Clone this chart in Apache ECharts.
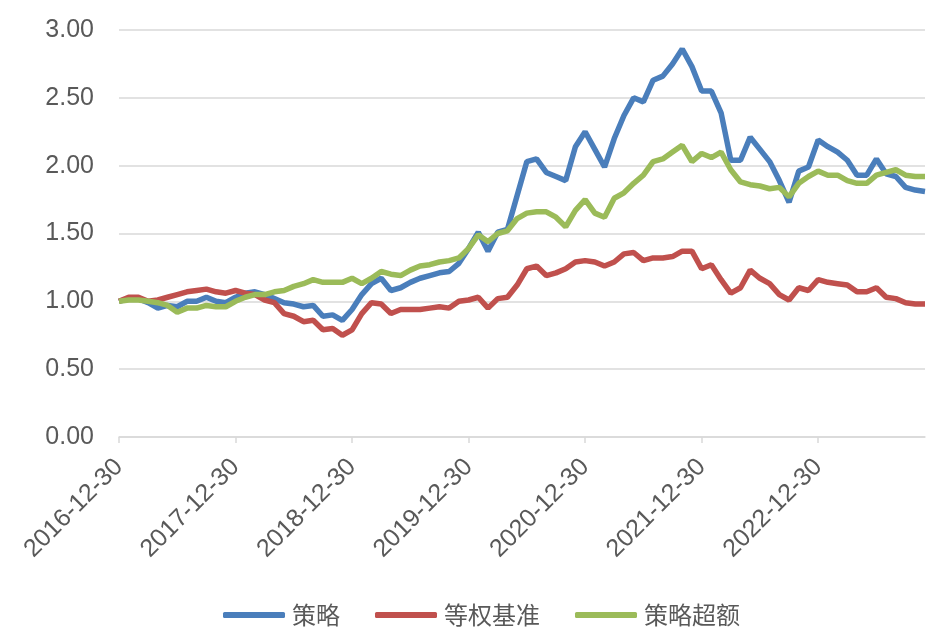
<!DOCTYPE html>
<html>
<head>
<meta charset="utf-8">
<script src="https://cdn.jsdelivr.net/npm/echarts@6/dist/echarts.min.js"></script>
<style>
html,body{margin:0;padding:0;background:#fff;}
#chart{width:936px;height:639px;}
</style>
</head>
<body>
<div id="chart"></div>
<script>
// Monthly observations from 2016-12 to 2023-11 (84 points)
var startYear = 2016, startMonth = 12, nPoints = 84;
var tickLabels = ['2016-12-30','2017-12-30','2018-12-30','2019-12-30','2020-12-30','2021-12-30','2022-12-30'];
var seriesNames = ['策略','等权基准','策略超额'];

var strategy = [
 1.00,1.02,1.02,0.99,0.95,0.97,0.96,1.00,1.00,1.03,1.00,0.99,
 1.03,1.06,1.07,1.05,1.02,0.99,0.98,0.96,0.97,0.89,0.90,0.86,
 0.94,1.05,1.13,1.17,1.08,1.10,1.14,1.17,1.19,1.21,1.22,1.28,
 1.39,1.51,1.37,1.51,1.53,1.78,2.03,2.05,1.95,1.92,1.89,2.14,
 2.25,2.12,1.99,2.20,2.37,2.50,2.47,2.63,2.66,2.75,2.86,2.73,
 2.55,2.55,2.39,2.04,2.04,2.21,2.12,2.03,1.89,1.73,1.96,1.99,
 2.19,2.14,2.10,2.04,1.93,1.93,2.05,1.94,1.92,1.84,1.82,1.81
];
var benchmark = [
 1.00,1.03,1.03,1.00,1.01,1.03,1.05,1.07,1.08,1.09,1.07,1.06,
 1.08,1.06,1.05,1.01,0.99,0.91,0.89,0.85,0.86,0.79,0.80,0.75,
 0.79,0.91,0.99,0.98,0.91,0.94,0.94,0.94,0.95,0.96,0.95,1.00,
 1.01,1.03,0.95,1.02,1.03,1.12,1.24,1.26,1.19,1.21,1.24,1.29,
 1.30,1.29,1.26,1.29,1.35,1.36,1.30,1.32,1.32,1.33,1.37,1.37,
 1.24,1.27,1.16,1.06,1.10,1.23,1.17,1.13,1.05,1.01,1.10,1.08,
 1.16,1.14,1.13,1.12,1.07,1.07,1.10,1.03,1.02,0.99,0.98,0.98
];
var excess = [
 1.00,1.01,1.01,1.00,0.99,0.97,0.92,0.95,0.95,0.97,0.96,0.96,
 1.00,1.03,1.05,1.05,1.07,1.08,1.11,1.13,1.16,1.14,1.14,1.14,
 1.17,1.13,1.17,1.22,1.20,1.19,1.23,1.26,1.27,1.29,1.30,1.32,
 1.39,1.49,1.44,1.50,1.52,1.61,1.65,1.66,1.66,1.62,1.55,1.67,
 1.75,1.65,1.62,1.76,1.80,1.87,1.93,2.03,2.05,2.10,2.15,2.03,
 2.09,2.06,2.10,1.97,1.88,1.86,1.85,1.83,1.84,1.77,1.87,1.92,
 1.96,1.93,1.93,1.89,1.87,1.87,1.93,1.95,1.97,1.93,1.92,1.92
];

var categories = [];
for (var i = 0; i < nPoints; i++) {
  var m = startMonth - 1 + i;
  var y = startYear + Math.floor(m / 12);
  var mm = (m % 12) + 1;
  categories.push(y + '-' + (mm < 10 ? '0' + mm : mm));
}

var colors = ['#4A7EBB', '#C0504D', '#9BBB59'];
var txt = '#595959';
var grid = '#D9D9D9';

var chart = echarts.init(document.getElementById('chart'), null, {renderer: 'canvas'});
chart.setOption({
  animation: false,
  backgroundColor: '#fff',
  color: colors,
  grid: {left: 119, right: 11, top: 30, bottom: 202, containLabel: false},
  legend: {
    left: 218, top: 598,
    itemWidth: 62, itemHeight: 6, itemGap: 35,
    icon: 'roundRect',
    textStyle: {color: txt, fontSize: 24, fontFamily: 'Noto Sans CJK SC', padding: [0,0,0,2]},
    data: seriesNames
  },
  xAxis: {
    type: 'category',
    boundaryGap: false,
    data: categories,
    axisLine: {lineStyle: {color: grid, width: 1.5}},
    axisTick: {show: true, length: 6, lineStyle: {color: grid, width: 1.5},
      interval: function (idx) { return idx % 12 === 0; }},
    axisLabel: {
      interval: function (idx) { return idx % 12 === 0; },
      formatter: function (v, idx) { return tickLabels[idx / 12] || ''; },
      rotate: 45, margin: 26,
      color: txt, fontSize: 25, fontFamily: 'Liberation Sans'
    },
    splitLine: {show: false}
  },
  yAxis: {
    type: 'value', min: 0, max: 3, interval: 0.5,
    axisLine: {show: false}, axisTick: {show: false},
    axisLabel: {formatter: function (v) { return v.toFixed(2); }, color: txt, fontSize: 25, fontFamily: 'Liberation Sans', margin: 25},
    splitLine: {lineStyle: {color: grid, width: 1.5}}
  },
  series: [
    {name: seriesNames[0], type: 'line', data: strategy, showSymbol: false, symbol: 'none', lineStyle: {width: 5.5, color: colors[0]}, itemStyle: {color: colors[0]}},
    {name: seriesNames[1], type: 'line', data: benchmark, showSymbol: false, symbol: 'none', lineStyle: {width: 5.5, color: colors[1]}, itemStyle: {color: colors[1]}},
    {name: seriesNames[2], type: 'line', data: excess, showSymbol: false, symbol: 'none', lineStyle: {width: 5.5, color: colors[2]}, itemStyle: {color: colors[2]}}
  ]
});
</script>
</body>
</html>
